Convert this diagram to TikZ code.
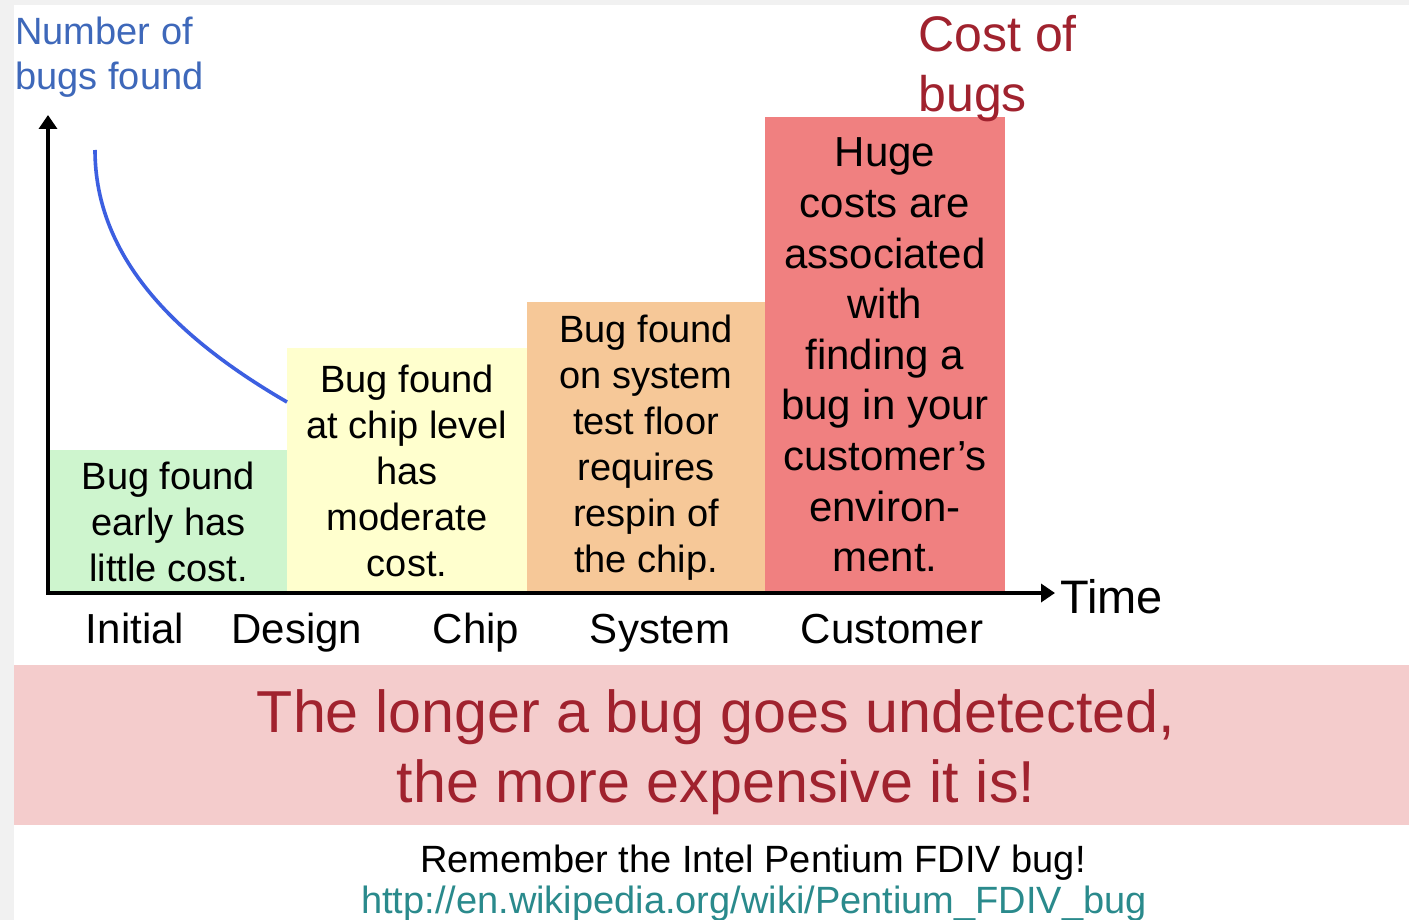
\documentclass[tikz,border=0pt]{standalone}
\usepackage{fontspec}
\setmainfont{Liberation Sans}
\usepackage{tikz}
\usetikzlibrary{positioning, arrows.meta}
\definecolor{verdeclaro}{RGB}{206, 245, 206}
\definecolor{amarilloclaro}{RGB}{255, 255, 206}
\definecolor{naranjaclaro}{RGB}{246, 200, 152}
\definecolor{rojoclaro}{RGB}{240, 128, 128}
\definecolor{rosaclaro}{RGB}{244, 204, 204}
\definecolor{rojooscuro}{RGB}{160, 34, 46}
\definecolor{azultexto}{RGB}{62, 104, 186}
\definecolor{azulcurva}{RGB}{60, 95, 225}
\definecolor{grismarco}{RGB}{241, 241, 241}
\definecolor{enlace}{RGB}{42, 138, 140}

\begin{document}
\begin{tikzpicture}[
		x=0.5pt, y=-0.5pt,
		caja/.style = {
			rectangle,
			anchor=south west,
			inner sep=0pt,
			outer sep=0pt,
			minimum width=120pt,
			align=center,
			font=\fontsize{19}{23}\selectfont
		},
		etapa/.style = {anchor=base, font=\fontsize{21}{25}\selectfont},
		eje/.style = {line width=1.8pt, {Triangle[length=7pt,width=9pt]}-{Triangle[length=7pt,width=9pt]}}
		]
		
		\useasboundingbox (0,0) rectangle (1409,920);
		\fill[white] (0,0) rectangle (1409,920);
		\fill[grismarco] (0,0) rectangle (14,920);
		\fill[grismarco] (0,0) rectangle (1409,5);
		
		% Ejes
		\coordinate (origen) at (48,593);
		\coordinate (ejey) at (48,115);
		\coordinate (ejex) at (1055,593);
		
		% Caja 1 - Inicial
		\node[caja, fill=verdeclaro, minimum width=118.5pt, minimum height=71.5pt] (inicial) at (50,593)
		{Bug found\\ early has\\ little cost.};
		
		% Caja 2 - Chip
		\node[caja, fill=amarilloclaro, minimum height=122.5pt] (chip) at (inicial.south east)
		{Bug found\\ at chip level\\ has\\ moderate\\ cost.};
		
		% Caja 3 - Sistema
		\node[caja, fill=naranjaclaro, minimum width=119pt, minimum height=145.5pt] (sistema) at (chip.south east)
		{Bug found\\ on system\\ test floor\\ requires\\ respin of\\ the chip.};
		
		% Caja 4 - Cliente
		\node[caja, fill=rojoclaro, minimum height=238pt, font=\fontsize{21}{25.3}\selectfont] (cliente) at (sistema.south east)
		{Huge\\ costs are\\ associated\\ with\\ finding a\\ bug in your\\ customer's\\ environ-\\ ment.};
		
		\draw[eje] (ejey) -- (origen) -- (ejex);
		
		% Curva de bugs encontrados
		\coordinate (curvaini) at (95,150);
		\coordinate (curvafin) at (287,402);
		\draw[azulcurva, line width=1.8pt] (curvaini) .. controls (95,260) and (180,340) .. (curvafin);
		
		% Titulos de los ejes
		\node[anchor=base west, align=left, text=azultexto, inner sep=0pt,
			font=\fontsize{19}{22.5}\selectfont] (numbugs) at (15,90)
		{Number of\\ bugs found};
		\node[anchor=base west, align=left, text=rojooscuro, inner sep=0pt,
			font=\fontsize{25}{30}\selectfont] (costo) at (918,112)
		{Cost of\\ bugs};
		\node[anchor=base west, inner sep=0pt, font=\fontsize{23.5}{28}\selectfont] (tiempo) at (1060,613)
		{Time};
		
		% Etapas
		\node[etapa] (etinicial) at (135,643) {Initial};
		\node[etapa] (etdiseno) at (297,643) {Design};
		\node[etapa] (etchip) at (476,643) {Chip};
		\node[etapa] (etsistema) at (660,643) {System};
		\node[etapa] (etcliente) at (892,643) {Customer};
		
		% Franja de conclusion
		\fill[rosaclaro] (14,665) rectangle (1409,825);
		\node[inner sep=0pt, text=rojooscuro, align=center,
			font=\fontsize{29.6}{35}\selectfont] (leccion) at (716,752)
		{The longer a bug goes undetected,\\ the more expensive it is!};
		
		% Nota final
		\node[anchor=base, font=\fontsize{19}{23}\selectfont] (recuerdo) at (753,872)
		{Remember the Intel Pentium FDIV bug!};
		\node[anchor=base, text=enlace, font=\fontsize{19}{23}\selectfont] (url) at (754,913)
		{\underline{http://en.wikipedia.org/wiki/Pentium\_FDIV\_bug}};
		
	\end{tikzpicture}
\end{document}
